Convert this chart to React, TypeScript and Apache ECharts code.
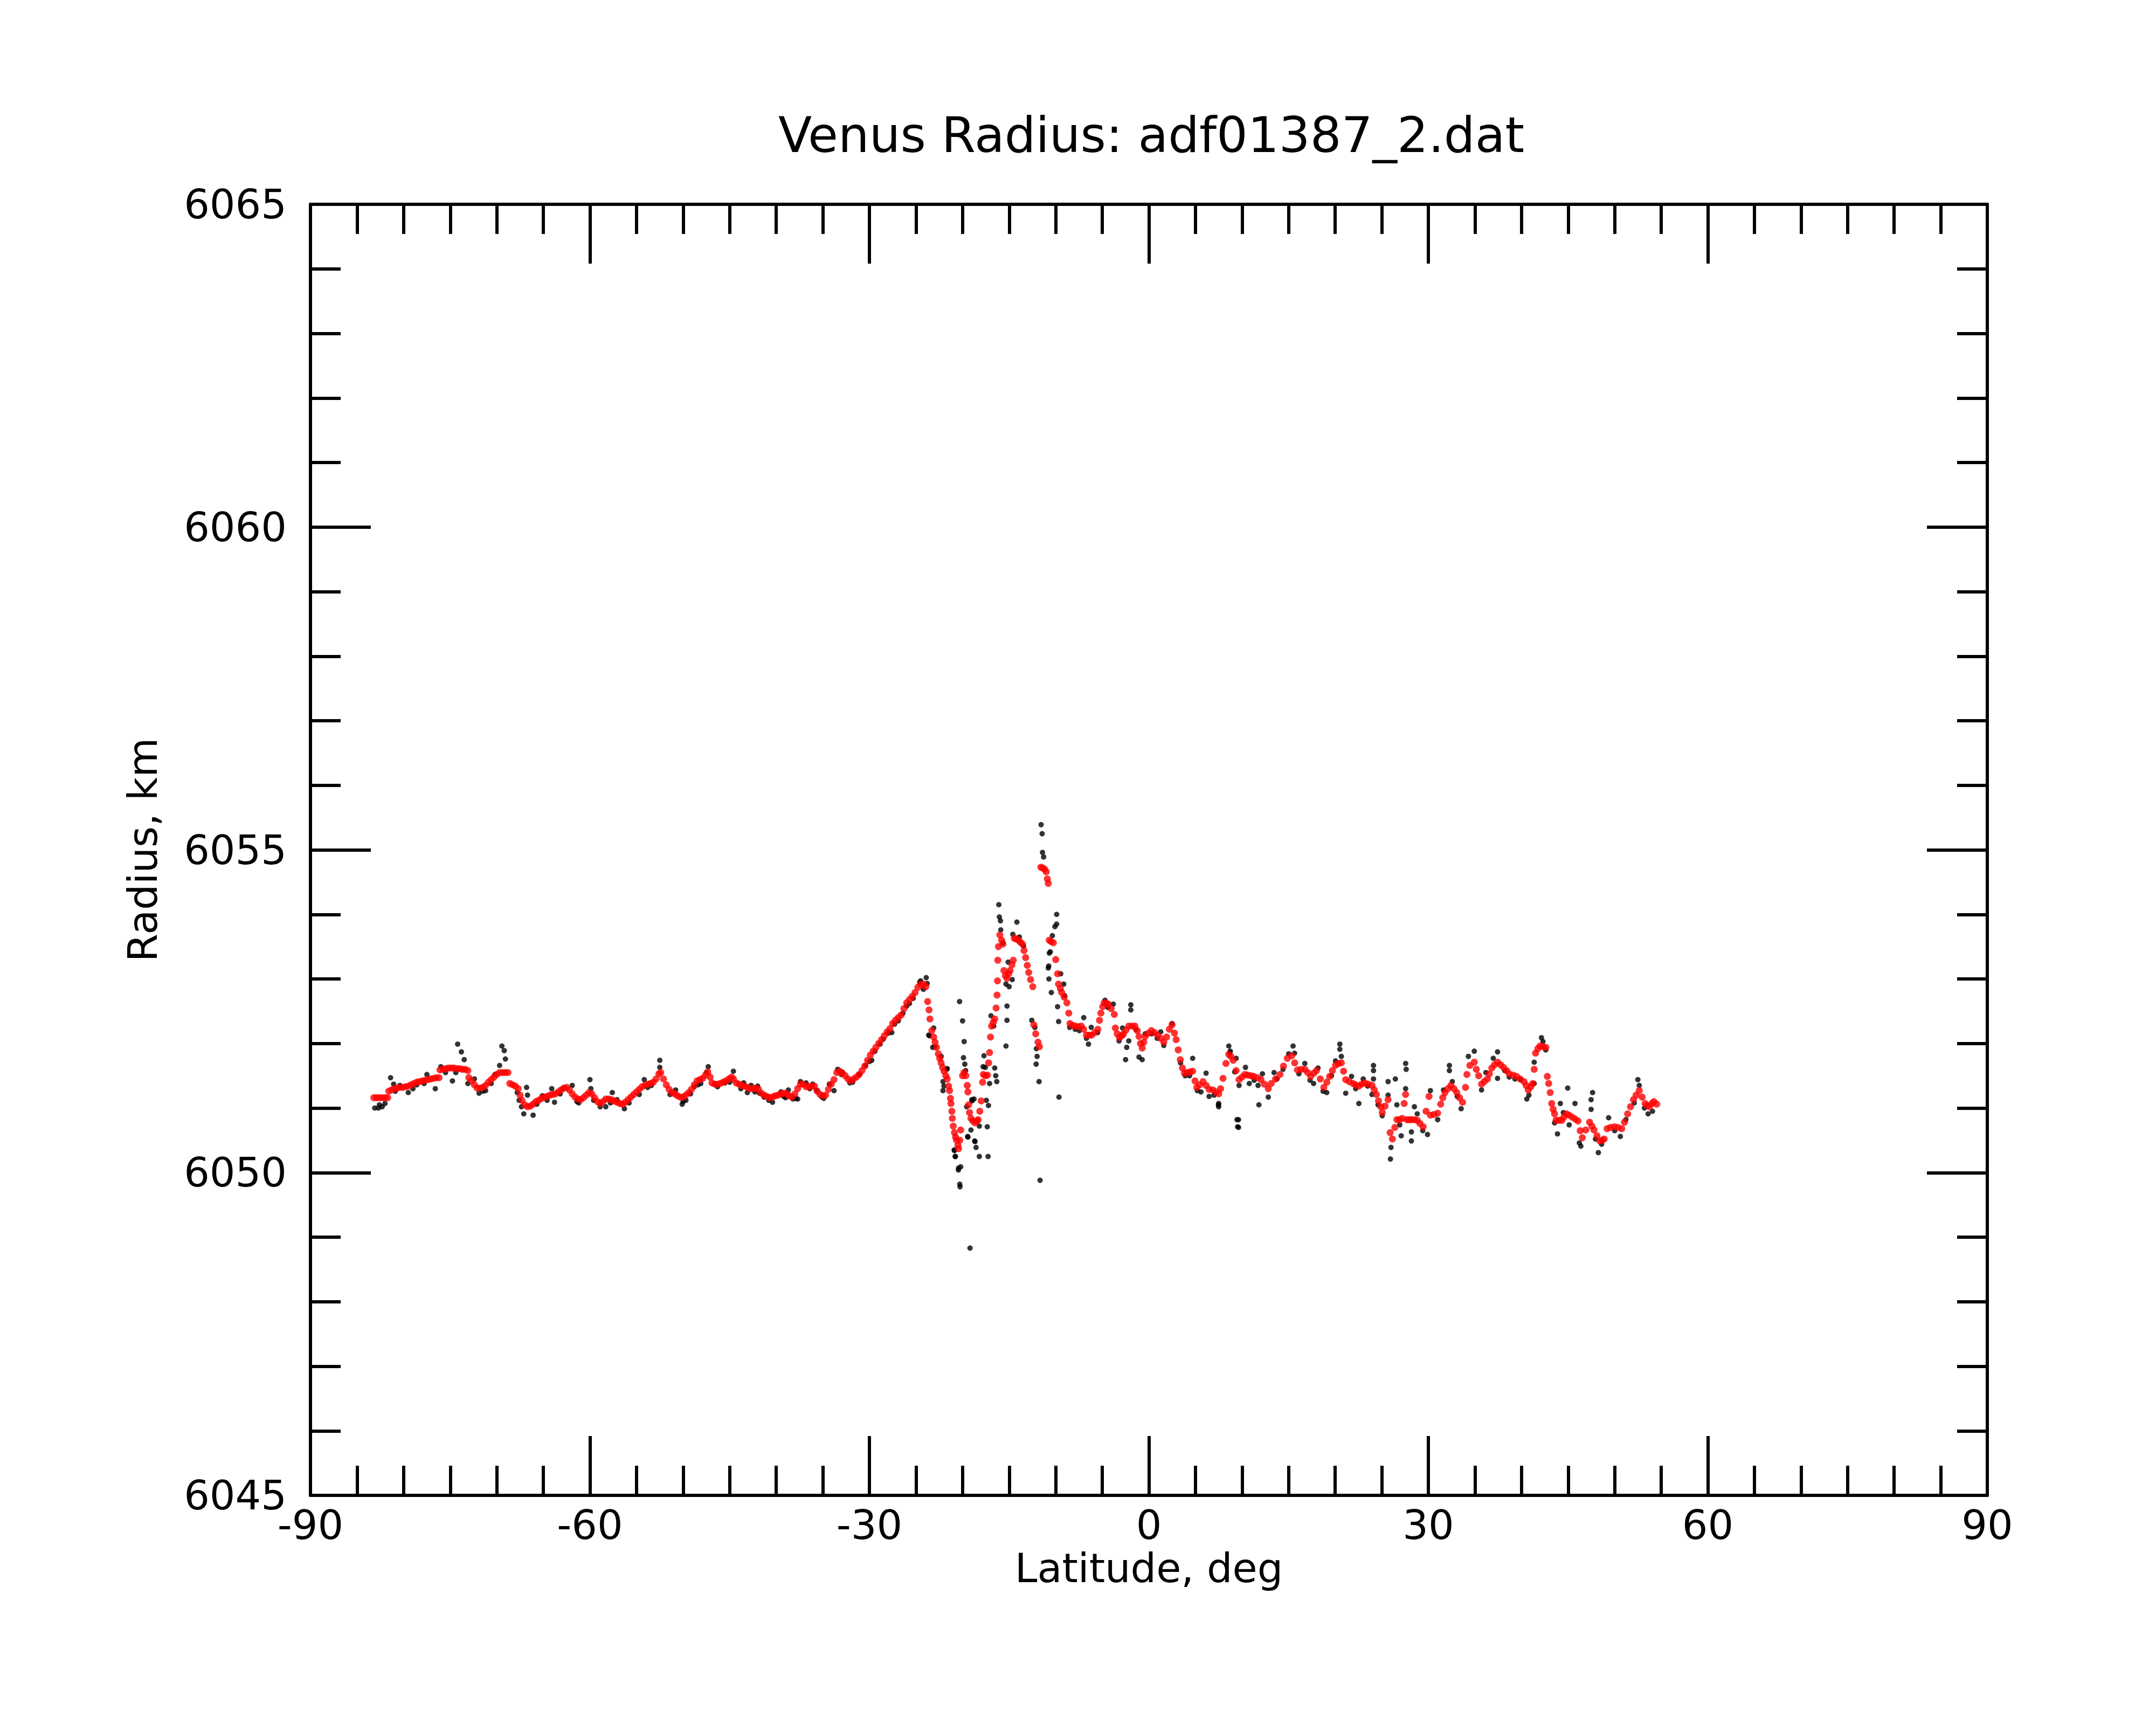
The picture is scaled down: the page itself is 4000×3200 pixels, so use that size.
import React, { useEffect, useRef } from "react";
import * as echarts from "echarts";

const TITLE = "Venus Radius: adf01387_2.dat";
const X_NAME = "Latitude, deg";
const Y_NAME = "Radius, km";
const X_MIN = -90;
const X_MAX = 90;
const X_STEP = 30;
const Y_MIN = 6045;
const Y_MAX = 6065;
const Y_STEP = 5;

// raw radius samples (black)
const rawPoints: number[][] = [
  [-83.1, 6051.0], [-82.7, 6051.0], [-82.6, 6051.05], [-82.3, 6051.02], [-82.0, 6051.07], [-81.4, 6051.47], [-81.07, 6051.37],
  [-80.9, 6051.26], [-80.4, 6051.35], [-79.5, 6051.24], [-79.0, 6051.3], [-78.6, 6051.36], [-77.8, 6051.38], [-77.5, 6051.52],
  [-76.6, 6051.3], [-76.0, 6051.64], [-75.5, 6051.55], [-74.76, 6051.42], [-74.4, 6051.55], [-74.2, 6051.99], [-73.8, 6051.87],
  [-73.5, 6051.75], [-73.1, 6051.38], [-72.4, 6051.45], [-71.9, 6051.23], [-71.5, 6051.26], [-71.2, 6051.27], [-70.6, 6051.38],
  [-70.2, 6051.52], [-69.7, 6051.66], [-69.45, 6051.96], [-69.2, 6051.89], [-69.07, 6051.76], [-67.8, 6051.24], [-67.6, 6051.12],
  [-67.35, 6051.02], [-67.1, 6050.91], [-66.8, 6051.32], [-66.7, 6051.2], [-66.1, 6050.89], [-65.7, 6051.06], [-65.1, 6051.19],
  [-64.6, 6051.12], [-64.1, 6051.3], [-63.8, 6051.09], [-63.2, 6051.22], [-62.9, 6051.3], [-61.9, 6051.35], [-61.4, 6051.1],
  [-61.2, 6051.08], [-60.0, 6051.44], [-59.9, 6051.3], [-59.6, 6051.12], [-58.9, 6051.02], [-58.3, 6051.02], [-57.8, 6051.08],
  [-57.6, 6051.24], [-57.1, 6051.13], [-56.3, 6050.99], [-55.8, 6051.08], [-54.7, 6051.21], [-54.17, 6051.44], [-53.8, 6051.32],
  [-53.4, 6051.35], [-52.5, 6051.74], [-52.5, 6051.63], [-51.4, 6051.21], [-50.8, 6051.28], [-50.1, 6051.06], [-50.0, 6051.1],
  [-49.7, 6051.12], [-49.2, 6051.22], [-48.8, 6051.33], [-48.4, 6051.36], [-48.1, 6051.38], [-47.5, 6051.55], [-47.3, 6051.64],
  [-46.6, 6051.37], [-46.3, 6051.33], [-45.5, 6051.39], [-45.0, 6051.4], [-44.6, 6051.57], [-43.8, 6051.3], [-43.5, 6051.39],
  [-43.1, 6051.24], [-42.7, 6051.35], [-42.3, 6051.25], [-42.0, 6051.34], [-41.8, 6051.23], [-41.3, 6051.17], [-40.8, 6051.12],
  [-40.4, 6051.09], [-39.5, 6051.25], [-39.2, 6051.18], [-39.0, 6051.16], [-38.7, 6051.28], [-38.2, 6051.14], [-37.9, 6051.15],
  [-37.7, 6051.14], [-37.4, 6051.41], [-36.8, 6051.39], [-36.4, 6051.3], [-36.1, 6051.37], [-35.7, 6051.28], [-35.1, 6051.17],
  [-34.9, 6051.15], [-34.3, 6051.37], [-33.8, 6051.27], [-33.4, 6051.6], [-33.0, 6051.52], [-32.95, 6051.56], [-32.1, 6051.39],
  [-31.8, 6051.4], [-31.1, 6051.52], [-30.4, 6051.66], [-30.0, 6051.72], [-29.75, 6051.74], [-29.4, 6051.88], [-28.85, 6051.99],
  [-28.5, 6052.07], [-27.97, 6052.16], [-27.6, 6052.17], [-27.3, 6052.3], [-26.9, 6052.35], [-26.4, 6052.47], [-26.0, 6052.58],
  [-25.7, 6052.62], [-25.3, 6052.7], [-24.6, 6052.95], [-24.5, 6052.97], [-24.2, 6052.84], [-23.9, 6053.02], [-23.8, 6052.93],
  [-23.64, 6052.13], [-23.55, 6052.12], [-23.2, 6051.94], [-23.1, 6052.24], [-22.97, 6051.95], [-22.3, 6051.8], [-22.1, 6051.41],
  [-22.1, 6051.27], [-22.0, 6051.34], [-21.7, 6051.6], [-21.65, 6051.61], [-20.9, 6050.35], [-20.87, 6050.34], [-20.8, 6050.25],
  [-20.76, 6050.25], [-20.45, 6050.04], [-20.43, 6050.07], [-20.32, 6052.65], [-20.3, 6049.82], [-20.27, 6049.78], [-20.2, 6050.09],
  [-20.0, 6052.35], [-19.9, 6051.78], [-19.83, 6052.03], [-19.76, 6051.68], [-19.67, 6051.58], [-19.56, 6051.02], [-19.45, 6050.56],
  [-19.43, 6050.55], [-19.2, 6048.83], [-19.1, 6050.66], [-19.0, 6051.13], [-18.99, 6051.11], [-18.77, 6051.14], [-18.7, 6050.49],
  [-18.66, 6050.48], [-18.55, 6050.39], [-18.2, 6050.25], [-18.2, 6050.72], [-17.8, 6051.64], [-17.7, 6051.81], [-17.55, 6051.63],
  [-17.45, 6051.12], [-17.35, 6050.71], [-17.26, 6050.25], [-17.22, 6051.04], [-17.1, 6051.38], [-16.95, 6052.43], [-16.66, 6052.27],
  [-16.55, 6051.62], [-16.44, 6051.5], [-16.33, 6051.41], [-16.11, 6054.15], [-16.05, 6053.96], [-15.93, 6053.9], [-15.9, 6053.76],
  [-15.67, 6053.56], [-15.34, 6052.92], [-15.34, 6051.96], [-15.23, 6052.58], [-15.23, 6052.36], [-15.1, 6053.26], [-15.0, 6052.88],
  [-14.67, 6052.99], [-14.6, 6053.69], [-14.17, 6053.88], [-13.9, 6053.65], [-13.45, 6053.51], [-12.57, 6052.36], [-12.24, 6052.25],
  [-12.1, 6051.68], [-12.08, 6051.92], [-12.0, 6051.8], [-11.79, 6051.41], [-11.68, 6049.88], [-11.57, 6055.39], [-11.46, 6055.25],
  [-11.42, 6054.96], [-11.3, 6054.89], [-10.8, 6053.17], [-10.75, 6053.2], [-10.73, 6053.0], [-10.69, 6053.4], [-10.58, 6053.42],
  [-10.47, 6052.79], [-10.36, 6053.67], [-10.09, 6053.81], [-9.9, 6054.0], [-9.9, 6053.85], [-9.8, 6052.57], [-9.69, 6052.34],
  [-9.65, 6051.17], [-9.47, 6053.08], [-9.14, 6052.92], [-9.03, 6052.74], [-8.5, 6052.25], [-7.9, 6052.22], [-7.47, 6052.2],
  [-6.99, 6052.4], [-6.7, 6052.08], [-6.48, 6051.99], [-6.19, 6052.25], [-5.5, 6052.17], [-4.71, 6052.67], [-4.4, 6052.56],
  [-3.82, 6052.61], [-3.2, 6052.04], [-2.83, 6052.24], [-2.5, 6051.75], [-2.38, 6051.94], [-2.16, 6052.04], [-1.94, 6052.6],
  [-1.94, 6052.52], [-1.4, 6052.22], [-1.06, 6051.79], [-0.72, 6051.75], [-0.39, 6052.15], [0.3, 6052.15], [0.9, 6052.08],
  [1.27, 6052.18], [1.6, 6051.97], [2.49, 6052.31], [3.4, 6051.7], [3.9, 6051.5], [4.37, 6051.5], [4.7, 6051.77],
  [5.2, 6051.27], [5.59, 6051.25], [6.14, 6051.54], [6.47, 6051.18], [7.0, 6051.2], [7.47, 6051.05], [7.49, 6051.07],
  [7.49, 6051.02], [8.58, 6051.96], [8.69, 6051.86], [8.74, 6051.88], [9.21, 6051.56], [9.37, 6051.77], [9.46, 6050.82],
  [9.53, 6050.71], [9.62, 6050.82], [9.62, 6050.7], [9.68, 6051.35], [10.37, 6051.63], [10.78, 6051.38], [11.3, 6051.43],
  [11.72, 6051.35], [11.81, 6051.05], [12.19, 6051.53], [12.82, 6051.17], [13.44, 6051.55], [13.76, 6051.45], [14.4, 6051.6],
  [15.01, 6051.84], [15.48, 6051.96], [15.64, 6051.85], [16.11, 6051.53], [16.74, 6051.69], [17.3, 6051.43], [17.68, 6051.38],
  [18.15, 6051.62], [18.7, 6051.26], [19.09, 6051.24], [19.6, 6051.5], [20.03, 6051.73], [20.5, 6051.99], [20.5, 6051.91],
  [20.66, 6051.8], [21.13, 6051.23], [21.75, 6051.49], [22.2, 6051.3], [22.54, 6051.07], [23.01, 6051.45], [23.48, 6051.34],
  [23.95, 6051.21], [24.11, 6051.66], [24.11, 6051.58], [24.11, 6051.45], [24.6, 6051.05], [25.05, 6050.88], [25.68, 6051.41],
  [25.68, 6051.2], [25.93, 6050.21], [25.99, 6050.39], [26.46, 6051.45], [26.62, 6051.05], [26.93, 6050.74], [27.09, 6050.57],
  [27.56, 6051.69], [27.62, 6051.6], [27.56, 6051.3], [28.18, 6050.63], [28.18, 6050.49], [28.5, 6051.02], [28.81, 6050.91],
  [29.4, 6050.65], [29.91, 6050.59], [30.22, 6051.27], [31.0, 6050.82], [31.63, 6051.28], [32.26, 6051.66], [32.26, 6051.58],
  [32.57, 6051.41], [33.1, 6051.18], [33.52, 6050.99], [34.3, 6051.8], [34.93, 6051.88], [35.71, 6051.28], [36.18, 6051.55],
  [36.97, 6051.77], [37.43, 6051.87], [37.43, 6051.46], [38.2, 6051.58], [38.69, 6051.48], [39.3, 6051.45], [39.94, 6051.44],
  [40.57, 6051.14], [40.8, 6051.2], [41.36, 6051.71], [41.36, 6051.38], [42.14, 6052.09], [42.3, 6052.03], [42.6, 6051.9],
  [43.55, 6050.77], [43.86, 6050.6], [44.17, 6051.07], [44.49, 6050.93], [44.96, 6051.31], [45.12, 6050.74], [45.74, 6051.07],
  [46.21, 6050.46], [46.37, 6050.41], [47.47, 6051.13], [47.47, 6050.98], [47.63, 6051.24], [47.94, 6050.52], [48.25, 6050.31],
  [48.6, 6050.44], [49.35, 6050.85], [50.0, 6050.65], [50.61, 6050.56], [51.2, 6050.82], [52.1, 6051.08], [52.49, 6051.44],
  [52.64, 6051.35], [53.2, 6051.0], [53.59, 6050.91], [54.06, 6050.95],
];

// smoothed radius (red)
const smoothPoints: number[][] = [
  [-83.2, 6051.16], [-82.9, 6051.16], [-82.6, 6051.16], [-82.3, 6051.16], [-82.0, 6051.16], [-81.7, 6051.16],
  [-81.6, 6051.26], [-81.3, 6051.28], [-81.0, 6051.3], [-80.7, 6051.31], [-80.4, 6051.32], [-80.1, 6051.32],
  [-79.8, 6051.33], [-79.5, 6051.34], [-79.2, 6051.36], [-78.9, 6051.38], [-78.6, 6051.4], [-78.3, 6051.41],
  [-78.0, 6051.42], [-77.7, 6051.43], [-77.4, 6051.44], [-77.1, 6051.45], [-76.8, 6051.46], [-76.5, 6051.47],
  [-76.2, 6051.47], [-76.1, 6051.59], [-75.8, 6051.6], [-75.5, 6051.61], [-75.2, 6051.62], [-74.9, 6051.62],
  [-74.6, 6051.62], [-74.3, 6051.61], [-74.0, 6051.61], [-73.7, 6051.6], [-73.4, 6051.6], [-73.1, 6051.58],
  [-73.0, 6051.47], [-72.7, 6051.42], [-72.4, 6051.36], [-72.1, 6051.31], [-71.8, 6051.31], [-71.5, 6051.32],
  [-71.2, 6051.35], [-70.9, 6051.4], [-70.6, 6051.44], [-70.3, 6051.48], [-70.0, 6051.52], [-69.7, 6051.55],
  [-69.4, 6051.55], [-69.1, 6051.55], [-68.8, 6051.55], [-68.6, 6051.38], [-68.3, 6051.36], [-68.0, 6051.34],
  [-67.7, 6051.3], [-67.5, 6051.2], [-67.3, 6051.12], [-67.0, 6051.05], [-66.7, 6051.02], [-66.4, 6051.03],
  [-66.1, 6051.06], [-65.8, 6051.1], [-65.5, 6051.12], [-65.2, 6051.15], [-64.9, 6051.17], [-64.6, 6051.18],
  [-64.3, 6051.2], [-64.0, 6051.21], [-63.7, 6051.22], [-63.4, 6051.25], [-63.1, 6051.28], [-62.8, 6051.31],
  [-62.5, 6051.32], [-62.2, 6051.28], [-61.9, 6051.22], [-61.6, 6051.17], [-61.3, 6051.14], [-61.0, 6051.13],
  [-60.7, 6051.16], [-60.4, 6051.2], [-60.1, 6051.24], [-59.8, 6051.22], [-59.5, 6051.16], [-59.2, 6051.1],
  [-58.9, 6051.07], [-58.6, 6051.1], [-58.3, 6051.14], [-58.0, 6051.14], [-57.7, 6051.13], [-57.4, 6051.11],
  [-57.1, 6051.09], [-56.8, 6051.07], [-56.5, 6051.06], [-56.2, 6051.09], [-55.9, 6051.13], [-55.6, 6051.17],
  [-55.3, 6051.21], [-55.0, 6051.25], [-54.7, 6051.29], [-54.4, 6051.33], [-54.1, 6051.35], [-53.8, 6051.37],
  [-53.5, 6051.38], [-53.2, 6051.4], [-52.9, 6051.45], [-52.6, 6051.53], [-52.4, 6051.55], [-52.1, 6051.45],
  [-51.8, 6051.36], [-51.5, 6051.29], [-51.2, 6051.24], [-50.9, 6051.22], [-50.6, 6051.19], [-50.3, 6051.17],
  [-50.0, 6051.17], [-49.7, 6051.2], [-49.4, 6051.24], [-49.1, 6051.29], [-48.8, 6051.36], [-48.5, 6051.42],
  [-48.2, 6051.44], [-47.9, 6051.46], [-47.6, 6051.51], [-47.35, 6051.56], [-47.1, 6051.48], [-46.9, 6051.39],
  [-46.6, 6051.37], [-46.3, 6051.37], [-46.0, 6051.38], [-45.7, 6051.4], [-45.4, 6051.42], [-45.1, 6051.45],
  [-44.8, 6051.48], [-44.6, 6051.45], [-44.3, 6051.39], [-44.0, 6051.37], [-43.7, 6051.35], [-43.4, 6051.34],
  [-43.1, 6051.32], [-42.8, 6051.3], [-42.5, 6051.3], [-42.2, 6051.31], [-41.9, 6051.29], [-41.6, 6051.23],
  [-41.3, 6051.2], [-41.0, 6051.18], [-40.7, 6051.16], [-40.4, 6051.17], [-40.1, 6051.19], [-39.8, 6051.2],
  [-39.5, 6051.22], [-39.2, 6051.23], [-38.9, 6051.22], [-38.6, 6051.19], [-38.3, 6051.17], [-38.0, 6051.22],
  [-37.7, 6051.3], [-37.4, 6051.37], [-37.1, 6051.37], [-36.8, 6051.33], [-36.5, 6051.33], [-36.2, 6051.34],
  [-35.9, 6051.34], [-35.6, 6051.26], [-35.3, 6051.21], [-35.0, 6051.19], [-34.7, 6051.2], [-34.4, 6051.29],
  [-34.1, 6051.37], [-33.8, 6051.44], [-33.5, 6051.55], [-33.2, 6051.57], [-32.9, 6051.54], [-32.6, 6051.5],
  [-32.3, 6051.45], [-32.0, 6051.42], [-31.7, 6051.45], [-31.4, 6051.48], [-31.1, 6051.52], [-30.8, 6051.58],
  [-30.5, 6051.65], [-30.2, 6051.74], [-29.9, 6051.82], [-29.6, 6051.88], [-29.3, 6051.94], [-29.0, 6052.0],
  [-28.7, 6052.06], [-28.4, 6052.12], [-28.1, 6052.18], [-27.8, 6052.23], [-27.5, 6052.31], [-27.2, 6052.36],
  [-26.9, 6052.4], [-26.6, 6052.44], [-26.3, 6052.54], [-26.0, 6052.63], [-25.7, 6052.68], [-25.4, 6052.73],
  [-25.1, 6052.79], [-24.8, 6052.87], [-24.5, 6052.92], [-24.2, 6052.92], [-23.95, 6052.88], [-23.75, 6052.65],
  [-23.6, 6052.52], [-23.5, 6052.38], [-23.3, 6052.2], [-23.1, 6052.1], [-22.95, 6052.02], [-22.8, 6051.94],
  [-22.6, 6051.84], [-22.45, 6051.77], [-22.3, 6051.7], [-22.15, 6051.63], [-21.98, 6051.57], [-21.8, 6051.5],
  [-21.65, 6051.45], [-21.5, 6051.34], [-21.4, 6051.27], [-21.3, 6051.15], [-21.25, 6051.07], [-21.15, 6050.95],
  [-21.1, 6050.84], [-21.0, 6050.72], [-20.87, 6050.62], [-20.75, 6050.55], [-20.65, 6050.5], [-20.5, 6050.42],
  [-20.43, 6050.37], [-20.3, 6050.5], [-20.2, 6050.66], [-20.0, 6051.5], [-19.85, 6051.55], [-19.65, 6051.5],
  [-19.5, 6051.35], [-19.43, 6051.25], [-19.35, 6051.05], [-19.25, 6050.93], [-19.1, 6050.84], [-18.9, 6050.8],
  [-18.66, 6050.77], [-18.45, 6050.8], [-18.33, 6050.82], [-18.15, 6050.95], [-18.0, 6051.11], [-17.85, 6051.4],
  [-17.77, 6051.52], [-17.55, 6051.5], [-17.33, 6051.51], [-17.2, 6051.7], [-17.1, 6051.86], [-17.0, 6052.1],
  [-16.89, 6052.27], [-16.7, 6052.33], [-16.55, 6052.38], [-16.4, 6052.55], [-16.3, 6052.75], [-16.25, 6052.97],
  [-16.22, 6053.29], [-16.15, 6053.5], [-16.0, 6053.68], [-15.8, 6053.6], [-15.67, 6053.54], [-15.56, 6053.13],
  [-15.4, 6053.05], [-15.23, 6053.01], [-15.05, 6053.08], [-14.9, 6053.13], [-14.7, 6053.22], [-14.56, 6053.29],
  [-14.45, 6053.63], [-14.25, 6053.62], [-14.0, 6053.6], [-13.8, 6053.57], [-13.57, 6053.54], [-13.4, 6053.44],
  [-13.23, 6053.33], [-13.05, 6053.21], [-12.9, 6053.1], [-12.7, 6052.99], [-12.46, 6052.88], [-12.35, 6052.29],
  [-12.15, 6052.15], [-11.9, 6052.02], [-11.75, 6051.95], [-11.6, 6054.73], [-11.4, 6054.72], [-11.2, 6054.7],
  [-11.02, 6054.66], [-10.9, 6054.55], [-10.8, 6054.48], [-10.7, 6053.6], [-10.5, 6053.58], [-10.25, 6053.56],
  [-10.0, 6053.3], [-9.8, 6053.08], [-9.7, 6052.92], [-9.5, 6052.85], [-9.36, 6052.79], [-9.1, 6052.72],
  [-8.8, 6052.63], [-8.6, 6052.47], [-8.47, 6052.31], [-8.2, 6052.28], [-7.92, 6052.27], [-7.6, 6052.26],
  [-7.26, 6052.27], [-7.0, 6052.22], [-6.7, 6052.13], [-6.4, 6052.13], [-6.15, 6052.13], [-5.8, 6052.17],
  [-5.48, 6052.22], [-5.3, 6052.36], [-5.15, 6052.47], [-4.95, 6052.57], [-4.8, 6052.63], [-4.55, 6052.62],
  [-4.37, 6052.61], [-4.05, 6052.54], [-3.71, 6052.45], [-3.6, 6052.24], [-3.4, 6052.15], [-3.16, 6052.09],
  [-2.9, 6052.12], [-2.72, 6052.15], [-2.45, 6052.21], [-2.16, 6052.27], [-1.8, 6052.27], [-1.5, 6052.27],
  [-1.25, 6052.2], [-1.06, 6052.11], [-0.9, 6052.0], [-0.72, 6051.93], [-0.55, 6052.02], [-0.39, 6052.11],
  [-0.05, 6052.16], [0.27, 6052.2], [0.6, 6052.17], [0.94, 6052.13], [1.25, 6052.08], [1.6, 6052.02],
  [1.9, 6052.1], [2.2, 6052.22], [2.49, 6052.29], [2.75, 6052.16], [2.93, 6052.06], [3.15, 6051.9],
  [3.37, 6051.75], [3.6, 6051.62], [3.82, 6051.54], [4.1, 6051.55], [4.4, 6051.56], [4.7, 6051.57],
  [4.95, 6051.42], [5.14, 6051.32], [5.45, 6051.36], [5.81, 6051.41], [6.15, 6051.35], [6.47, 6051.29],
  [6.86, 6051.28], [7.2, 6051.25], [7.5, 6051.22], [7.7, 6051.3], [7.96, 6051.46], [8.27, 6051.69],
  [8.58, 6051.83], [8.8, 6051.8], [9.05, 6051.74], [9.37, 6051.58], [9.68, 6051.44], [10.0, 6051.48],
  [10.31, 6051.52], [10.6, 6051.51], [10.95, 6051.5], [11.25, 6051.49], [11.65, 6051.47], [12.03, 6051.44],
  [12.4, 6051.37], [12.82, 6051.3], [13.13, 6051.38], [13.6, 6051.45], [14.07, 6051.52], [14.45, 6051.65],
  [14.86, 6051.77], [15.33, 6051.81], [15.65, 6051.7], [15.95, 6051.59], [16.35, 6051.6], [16.74, 6051.6],
  [17.05, 6051.55], [17.37, 6051.49], [17.7, 6051.54], [17.99, 6051.58], [18.4, 6051.45], [18.78, 6051.32],
  [19.1, 6051.4], [19.4, 6051.49], [19.7, 6051.58], [20.03, 6051.66], [20.35, 6051.69], [20.66, 6051.7],
  [20.9, 6051.57], [21.13, 6051.44], [21.5, 6051.41], [21.91, 6051.38], [22.2, 6051.36], [22.54, 6051.34],
  [22.85, 6051.37], [23.17, 6051.39], [23.55, 6051.37], [23.95, 6051.35], [24.2, 6051.28], [24.42, 6051.21],
  [24.65, 6051.11], [24.89, 6051.02], [25.05, 6050.93], [25.35, 6051.03], [25.68, 6051.13], [25.9, 6050.62],
  [26.14, 6050.52], [26.4, 6050.7], [26.62, 6050.82], [26.9, 6050.82], [27.2, 6050.84], [27.4, 6051.07],
  [27.56, 6051.21], [27.71, 6050.82], [27.95, 6050.82], [28.18, 6050.82], [28.5, 6050.82], [28.81, 6050.81],
  [29.1, 6050.76], [29.44, 6050.71], [29.75, 6050.95], [30.07, 6051.18], [30.22, 6050.89], [30.6, 6050.9],
  [31.0, 6050.92], [31.32, 6051.06], [31.55, 6051.16], [31.79, 6051.24], [32.1, 6051.3], [32.42, 6051.35],
  [32.75, 6051.3], [33.05, 6051.24], [33.35, 6051.16], [33.67, 6051.09], [33.99, 6051.32], [34.14, 6051.52],
  [34.46, 6051.66], [34.93, 6051.71], [35.15, 6051.6], [35.4, 6051.5], [35.71, 6051.37], [36.0, 6051.41],
  [36.34, 6051.45], [36.55, 6051.53], [36.81, 6051.62], [37.1, 6051.67], [37.43, 6051.71], [37.75, 6051.67],
  [38.06, 6051.63], [38.4, 6051.58], [38.69, 6051.53], [39.1, 6051.51], [39.47, 6051.49], [39.85, 6051.45],
  [40.26, 6051.41], [40.5, 6051.35], [40.73, 6051.28], [41.0, 6051.33], [41.2, 6051.38], [41.36, 6051.6],
  [41.51, 6051.85], [41.75, 6051.92], [41.98, 6051.96], [42.3, 6051.95], [42.61, 6051.94], [42.77, 6051.49],
  [42.92, 6051.38], [43.08, 6051.24], [43.24, 6051.07], [43.4, 6050.98], [43.55, 6050.91], [43.71, 6050.81],
  [44.0, 6050.81], [44.33, 6050.81], [44.55, 6050.86], [44.81, 6050.91], [45.1, 6050.89], [45.43, 6050.86],
  [45.75, 6050.83], [46.06, 6050.8], [46.3, 6050.65], [46.53, 6050.54], [46.9, 6050.66], [47.31, 6050.78],
  [47.55, 6050.72], [47.78, 6050.66], [48.1, 6050.57], [48.41, 6050.49], [48.65, 6050.5], [48.88, 6050.52],
  [49.19, 6050.68], [49.55, 6050.7], [49.98, 6050.71], [50.35, 6050.7], [50.76, 6050.68], [51.05, 6050.78],
  [51.39, 6050.91], [51.7, 6051.02], [52.02, 6051.13], [52.3, 6051.2], [52.64, 6051.27], [52.95, 6051.17],
  [53.27, 6051.07], [53.5, 6051.04], [53.74, 6051.02], [54.0, 6051.07], [54.21, 6051.1], [54.52, 6051.06],
];

const FONT = "DejaVu Sans";
const LINE_W = 6;
const LABEL_SIZE = 75;

function frameAxis(extra: any) {
  return {
    axisLine: { show: true, onZero: false, lineStyle: { color: "#000", width: LINE_W } },
    splitLine: { show: false },
    ...extra,
  };
}

export default function App() {
  const ref = useRef<HTMLDivElement>(null);

  useEffect(() => {
    if (!ref.current) return;
    const chart = echarts.init(ref.current, undefined, { renderer: "svg" });

    const xTick = { show: true, inside: true, length: 110, lineStyle: { color: "#000", width: LINE_W } };
    const xMinor = { show: true, splitNumber: 6, length: 55, lineStyle: { color: "#000", width: LINE_W } };
    const yTick = { show: true, inside: true, length: 112, lineStyle: { color: "#000", width: LINE_W } };
    const yMinor = { show: true, splitNumber: 5, length: 56, lineStyle: { color: "#000", width: LINE_W } };
    const plain = (v: number) => String(v);

    chart.setOption({
      animation: false,
      backgroundColor: "#ffffff",
      textStyle: { fontFamily: FONT },
      title: {
        text: TITLE,
        left: 2131,
        top: 200,
        textAlign: "center",
        textStyle: { fontFamily: FONT, fontSize: 91, fontWeight: "normal", color: "#000" },
      },
      grid: { left: 576, right: 313, top: 379, bottom: 426, containLabel: false },
      xAxis: [
        frameAxis({
          type: "value",
          position: "bottom",
          min: X_MIN,
          max: X_MAX,
          interval: X_STEP,
          name: X_NAME,
          nameLocation: "middle",
          nameGap: 97,
          nameTextStyle: { fontFamily: FONT, fontSize: LABEL_SIZE, color: "#000" },
          axisTick: xTick,
          minorTick: xMinor,
          axisLabel: { show: true, margin: 17, fontFamily: FONT, fontSize: LABEL_SIZE, color: "#000", formatter: plain },
        }),
        frameAxis({
          type: "value",
          position: "top",
          min: X_MIN,
          max: X_MAX,
          interval: X_STEP,
          axisTick: xTick,
          minorTick: xMinor,
          axisLabel: { show: false },
        }),
      ],
      yAxis: [
        frameAxis({
          type: "value",
          position: "left",
          min: Y_MIN,
          max: Y_MAX,
          interval: Y_STEP,
          name: Y_NAME,
          nameLocation: "middle",
          nameGap: 274,
          nameTextStyle: { fontFamily: FONT, fontSize: LABEL_SIZE, color: "#000" },
          axisTick: yTick,
          minorTick: yMinor,
          axisLabel: { show: true, margin: 44, fontFamily: FONT, fontSize: LABEL_SIZE, color: "#000", formatter: plain },
        }),
        frameAxis({
          type: "value",
          position: "right",
          min: Y_MIN,
          max: Y_MAX,
          interval: Y_STEP,
          axisTick: yTick,
          minorTick: yMinor,
          axisLabel: { show: false },
        }),
      ],
      series: [
        {
          type: "scatter",
          name: "raw",
          xAxisIndex: 0,
          yAxisIndex: 0,
          data: rawPoints,
          symbol: "circle",
          symbolSize: 10,
          itemStyle: { color: "#000000" },
          z: 2,
        },
        {
          type: "scatter",
          name: "smoothed",
          xAxisIndex: 0,
          yAxisIndex: 0,
          data: smoothPoints,
          symbol: "circle",
          symbolSize: 13,
          itemStyle: { color: "#ff0000" },
          z: 3,
        },
      ],
    });

    return () => {
      chart.dispose();
    };
  }, []);

  return (
    <div
      ref={ref}
      style={{ position: "fixed", left: 0, top: 0, width: "4000px", height: "3200px", background: "#fff" }}
    />
  );
}
